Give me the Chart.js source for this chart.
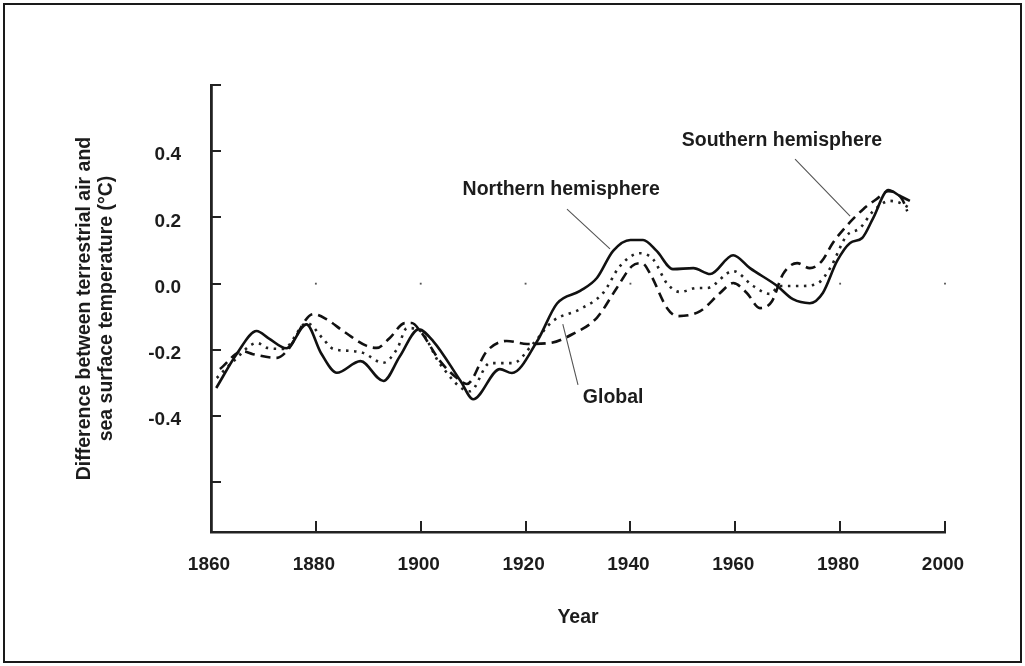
<!DOCTYPE html>
<html><head><meta charset="utf-8">
<script src="https://cdn.jsdelivr.net/npm/chart.js@4.4.1/dist/chart.umd.min.js"></script>
<style>
html,body{margin:0;padding:0;background:#fff;}
#wrap{position:relative;width:1025px;height:666px;overflow:hidden;}
#frame{position:absolute;left:3px;top:3px;width:1015px;height:656px;border:2px solid #1a1a1a;pointer-events:none;}
canvas{position:absolute;left:0;top:0;}
</style></head><body>
<div id="wrap"><canvas id="c" width="1025" height="666"></canvas><div id="frame"></div></div>
<script>
// ---- data ----
const xTickYears = [1860, 1880, 1900, 1920, 1940, 1960, 1980, 2000];
const yTickValues = [-0.6, -0.4, -0.2, 0, 0.2, 0.4, 0.6];
const yLabelledValues = [-0.4, -0.2, 0, 0.2, 0.4];
const zeroMarkerYears = [1880, 1900, 1920, 1940, 1960, 1980, 2000];

const nhYears = [1861, 1865, 1868.7, 1871, 1874.4, 1878.2, 1881, 1884, 1888.5, 1892.9, 1896, 1899.6, 1902.4, 1907.6, 1910, 1915.1, 1917.4, 1922.2, 1926, 1930.4, 1933.6, 1936.7, 1940, 1942.4, 1945, 1948.1, 1952, 1955.2, 1959.6, 1962.8, 1968, 1971, 1974.2, 1976.7, 1979.4, 1981.9, 1984.2, 1986.3, 1989.2, 1991.4, 1993.3];
const nhValues = [-0.315, -0.21, -0.143, -0.165, -0.195, -0.123, -0.21, -0.269, -0.234, -0.294, -0.22, -0.138, -0.174, -0.294, -0.349, -0.258, -0.27, -0.174, -0.06, -0.022, 0.017, 0.099, 0.132, 0.132, 0.099, 0.044, 0.047, 0.029, 0.086, 0.047, -0.007, -0.047, -0.059, -0.028, 0.068, 0.123, 0.138, 0.198, 0.283, 0.265, 0.25];

const shYears = [1861.7, 1866, 1868, 1872.6, 1874.5, 1879.5, 1882, 1885.2, 1889.7, 1891.6, 1894.1, 1897, 1898.3, 1899.9, 1903.7, 1906.9, 1908.8, 1912.6, 1916.4, 1920.3, 1924.7, 1929, 1933.6, 1937.4, 1940.3, 1942.2, 1943.7, 1947, 1948.9, 1953.3, 1957.1, 1959.6, 1962.2, 1964.7, 1967, 1969.1, 1971.8, 1974.2, 1976.5, 1978.6, 1981.2, 1984.4, 1987, 1989.2, 1991.8, 1992.8];
const shValues = [-0.258, -0.204, -0.213, -0.224, -0.203, -0.092, -0.107, -0.143, -0.188, -0.194, -0.164, -0.119, -0.119, -0.143, -0.234, -0.285, -0.303, -0.204, -0.173, -0.182, -0.179, -0.152, -0.103, -0.013, 0.053, 0.062, 0.032, -0.074, -0.098, -0.083, -0.028, 0.002, -0.028, -0.074, -0.053, 0.029, 0.062, 0.047, 0.068, 0.123, 0.174, 0.225, 0.256, 0.279, 0.256, 0.219];

const glYears = [1861.1, 1864.3, 1868.8, 1870.7, 1873.8, 1878.3, 1881.4, 1883.3, 1886.5, 1889, 1892.8, 1895.5, 1897.4, 1899.9, 1903.7, 1909.4, 1913.2, 1917.6, 1921.4, 1925.2, 1930.4, 1934.8, 1938, 1941.8, 1944.3, 1947, 1949.5, 1952.7, 1954.6, 1959.6, 1963.4, 1966.6, 1968.5, 1972.3, 1975.6, 1978.1, 1981.2, 1983.8, 1986.3, 1989.5, 1991.4, 1993.3];
const glValues = [-0.285, -0.234, -0.179, -0.194, -0.197, -0.119, -0.167, -0.197, -0.203, -0.209, -0.239, -0.197, -0.134, -0.143, -0.243, -0.325, -0.24, -0.24, -0.182, -0.113, -0.077, -0.028, 0.053, 0.092, 0.074, 0, -0.025, -0.013, -0.013, 0.038, -0.007, -0.031, -0.007, -0.007, 0, 0.047, 0.144, 0.168, 0.219, 0.25, 0.244, 0.228];

const annotationTexts = ['Northern hemisphere', 'Global', 'Southern hemisphere'];
const annotationAt = [[1926.8, 0.283], [1936.7, -0.343], [1968.9, 0.431]];
const leaderLines = [[[1927.9, 0.225], [1936.1, 0.105]], [[1927.1, -0.122], [1930.0, -0.306]], [[1971.4, 0.376], [1981.9, 0.204]]];

const xTitle = 'Year';
const yTitle = ['Difference between terrestrial air and', 'sea surface temperature (°C)'];

// ---- helpers ----
const pts = (xs, ys) => xs.map((x, i) => ({x, y: ys[i]}));
const FONT = "'Liberation Sans', Arial, sans-serif";
const INK = '#1c1c1c';

const inwardTicks = {
  id: 'inwardTicks',
  afterDraw(chart) {
    const {ctx, chartArea: a, scales: {x, y}} = chart;
    ctx.save();
    ctx.strokeStyle = '#222';
    ctx.lineWidth = 2;
    ctx.beginPath();
    xTickYears.slice(1).forEach(v => {
      const px = Math.round(x.getPixelForValue(v));
      ctx.moveTo(px, a.bottom); ctx.lineTo(px, a.bottom - 11);
    });
    yTickValues.forEach(v => {
      const py = Math.round(y.getPixelForValue(v));
      ctx.moveTo(a.left, py); ctx.lineTo(a.left + 10, py);
    });
    ctx.stroke();
    // leader lines
    ctx.strokeStyle = '#555';
    ctx.lineWidth = 1.1;
    ctx.beginPath();
    leaderLines.forEach(([p, q]) => {
      ctx.moveTo(x.getPixelForValue(p[0]), y.getPixelForValue(p[1]));
      ctx.lineTo(x.getPixelForValue(q[0]), y.getPixelForValue(q[1]));
    });
    ctx.stroke();
    // annotation labels
    ctx.fillStyle = INK;
    ctx.font = `bold 19.5px ${FONT}`;
    ctx.textAlign = 'center';
    ctx.textBaseline = 'middle';
    annotationTexts.forEach((t, i) => {
      ctx.fillText(t, x.getPixelForValue(annotationAt[i][0]), y.getPixelForValue(annotationAt[i][1]));
    });
    ctx.restore();
  }
};

new Chart(document.getElementById('c'), {
  type: 'scatter',
  data: {
    datasets: [
      {label: 'Northern hemisphere', data: pts(nhYears, nhValues), showLine: true, borderColor: '#111', borderWidth: 2.6, pointRadius: 0, cubicInterpolationMode: 'monotone', fill: false},
      {label: 'Southern hemisphere', data: pts(shYears, shValues), showLine: true, borderColor: '#111', borderWidth: 2.6, borderDash: [10, 6], pointRadius: 0, cubicInterpolationMode: 'monotone', fill: false},
      {label: 'Global', data: pts(glYears, glValues), showLine: true, borderColor: '#222', borderWidth: 2.6, borderDash: [2.5, 5.5], pointRadius: 0, cubicInterpolationMode: 'monotone', fill: false},
      {label: 'zero', data: zeroMarkerYears.map(v => ({x: v, y: 0})), showLine: false, pointStyle: 'rect', pointRadius: 1.3, backgroundColor: '#555', borderColor: '#555', borderWidth: 0, clip: false}
    ]
  },
  options: {
    responsive: false,
    devicePixelRatio: 1,
    animation: false,
    events: [],
    layout: {padding: {left: 74, right: 80, top: 85, bottom: 0}},
    plugins: {legend: {display: false}, tooltip: {enabled: false}},
    scales: {
      x: {
        type: 'linear', min: 1860, max: 2000,
        afterBuildTicks: s => { s.ticks = xTickYears.map(v => ({value: v})); },
        afterFit: s => { s.height = 134; },
        grid: {display: true, drawOnChartArea: false, drawTicks: false, color: 'rgba(0,0,0,0)'},
        border: {display: true, color: '#222', width: 2.5},
        ticks: {color: INK, font: {family: FONT, size: 19, weight: 'bold'}, padding: 21, labelOffset: -2, maxRotation: 0, callback: v => String(v)},
        title: {display: true, text: xTitle, color: INK, font: {family: FONT, size: 19.5, weight: 'bold'}, padding: {top: 0, bottom: 37}}
      },
      y: {
        type: 'linear', min: -0.75, max: 0.6,
        afterBuildTicks: s => { s.ticks = yTickValues.map(v => ({value: v})); },
        afterFit: s => { s.width = 137; },
        grid: {display: true, drawOnChartArea: false, drawTicks: false, color: 'rgba(0,0,0,0)'},
        border: {display: true, color: '#222', width: 2.8},
        ticks: {color: INK, font: {family: FONT, size: 19, weight: 'bold'}, padding: 30, labelOffset: 4,
          callback: v => yLabelledValues.some(l => Math.abs(l - v) < 1e-9) ? (Math.abs(v) < 1e-9 ? '0.0' : v.toFixed(1)) : ''},
        title: {display: true, text: yTitle, color: INK, font: {family: FONT, size: 19.5, weight: 'bold', lineHeight: 1.13}, padding: {top: 0, bottom: 0}}
      }
    }
  },
  plugins: [inwardTicks]
});
</script>
</body></html>
